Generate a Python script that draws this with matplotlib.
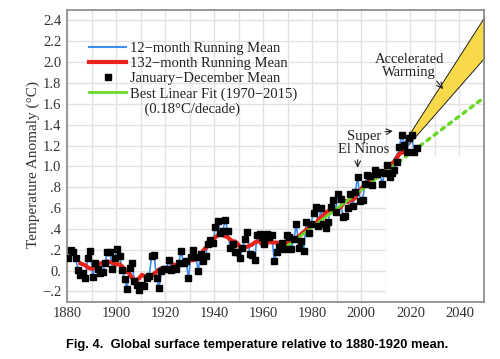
import numpy as np
import matplotlib.pyplot as plt
from matplotlib.lines import Line2D

# 年平均温度距平 (相对 1880-1920), 1880-2022
years = np.arange(1880, 2023)
annual = [0.12, 0.20, 0.18, 0.12, 0.01, -0.04, -0.02, -0.07, 0.12, 0.19,
          -0.06, 0.07, 0.02, -0.02, -0.01, 0.07, 0.18, 0.18, 0.02, 0.12,
          0.21, 0.14, 0.01, -0.08, -0.18, 0.03, 0.07, -0.10, -0.14, -0.19,
          -0.14, -0.15, -0.07, -0.05, 0.14, 0.15, -0.07, -0.17, 0.00, 0.02,
          0.02, 0.10, 0.01, 0.03, 0.02, 0.07, 0.19, 0.07, 0.09, -0.07,
          0.13, 0.20, 0.13, 0.00, 0.16, 0.09, 0.14, 0.26, 0.29, 0.27,
          0.42, 0.48, 0.36, 0.38, 0.49, 0.38, 0.22, 0.26, 0.18, 0.18,
          0.12, 0.22, 0.30, 0.37, 0.16, 0.15, 0.10, 0.34, 0.35, 0.32,
          0.26, 0.35, 0.32, 0.34, 0.09, 0.18, 0.23, 0.27, 0.21, 0.34,
          0.32, 0.21, 0.30, 0.45, 0.22, 0.28, 0.19, 0.47, 0.36, 0.45,
          0.55, 0.61, 0.43, 0.60, 0.45, 0.41, 0.47, 0.61, 0.68, 0.56,
          0.74, 0.69, 0.51, 0.52, 0.60, 0.74, 0.62, 0.75, 0.90, 0.67,
          0.68, 0.83, 0.92, 0.91, 0.82, 0.97, 0.93, 0.95, 0.83, 0.94,
          1.01, 0.90, 0.94, 0.97, 1.04, 1.19, 1.30, 1.21, 1.14, 1.27,
          1.30, 1.14, 1.18]

# 132 个月滑动平均, 1885-2017
smooth_years = np.arange(1885, 2018)
smooth = [0.07, 0.06, 0.05, 0.03, 0.02, 0.02, 0.04, 0.06, 0.07, 0.07,
          0.07, 0.09, 0.08, 0.08, 0.06, 0.06, 0.06, 0.04, 0.01, -0.01,
          -0.03, -0.07, -0.09, -0.09, -0.07, -0.04, -0.05, -0.07, -0.06, -0.05,
          -0.03, -0.01, 0.01, 0.02, 0.02, 0.02, 0.02, 0.03, 0.06, 0.05,
          0.06, 0.08, 0.08, 0.08, 0.09, 0.10, 0.10, 0.11, 0.13, 0.15,
          0.19, 0.22, 0.24, 0.26, 0.30, 0.32, 0.34, 0.35, 0.34, 0.33,
          0.32, 0.30, 0.28, 0.28, 0.26, 0.23, 0.21, 0.22, 0.23, 0.24,
          0.25, 0.27, 0.28, 0.28, 0.25, 0.26, 0.26, 0.28, 0.27, 0.27,
          0.27, 0.26, 0.26, 0.27, 0.26, 0.27, 0.28, 0.30, 0.31, 0.33,
          0.35, 0.37, 0.39, 0.42, 0.42, 0.44, 0.45, 0.49, 0.51, 0.53,
          0.56, 0.57, 0.56, 0.57, 0.57, 0.59, 0.61, 0.64, 0.67, 0.66,
          0.68, 0.68, 0.70, 0.74, 0.77, 0.80, 0.82, 0.85, 0.86, 0.86,
          0.89, 0.91, 0.92, 0.93, 0.94, 0.97, 1.00, 1.03, 1.04, 1.08,
          1.12, 1.13, 1.15]

# 线性拟合 (1970-2015) 及外推
fit_years = [1970, 2015]
fit_vals = [0.24, 1.04]
proj_years = [2015, 2050]
proj_vals = [1.04, 1.66]

# 加速变暖区间
wedge_years = [2010.5, 2050]
wedge_low = [0.98, 2.04]
wedge_high = [0.98, 2.43]

serif = 'Liberation Serif'

fig = plt.figure(figsize=(5, 3.59), dpi=100)
ax = fig.add_axes([0.134, 0.159, 0.834, 0.813])

ax.set_xlim(1880, 2050)
ax.set_ylim(-0.3, 2.5)
ax.set_xticks(np.arange(1880, 2041, 20))
ax.set_xticks(np.arange(1890, 2051, 20), minor=True)
yt = np.arange(-0.2, 2.41, 0.2)
ax.set_yticks(yt)
ylabels = ['\u2212.2', '0.', '.2', '.4', '.6', '.8', '1.0', '1.2', '1.4',
           '1.6', '1.8', '2.0', '2.2', '2.4']
ax.set_yticklabels(ylabels)
ax.grid(True, which='both', color='#e2e2e2', lw=1.0)
ax.set_axisbelow(True)
ax.tick_params(which='both', length=0, labelsize=10.5, colors='#333333', pad=4)
for lab in ax.get_xticklabels() + ax.get_yticklabels():
    lab.set_family(serif)
for s in ax.spines.values():
    s.set_color('#888888')
    s.set_linewidth(1.2)

# 右下角无网格
ax.fill_between([2010, 2050], -0.3, 1.1, color='white', zorder=0.6, lw=0)

ax.fill_between(wedge_years, wedge_low, wedge_high, facecolor='#f8d94a',
                edgecolor='#222222', lw=0.7, zorder=2)

x = years + 0.5
ax.plot(x, annual, color='#3d8ef0', lw=1.2, zorder=3)
ax.plot(smooth_years + 0.5, smooth, color='#e8231b', lw=3, zorder=4)
ax.plot(fit_years, fit_vals, color='#6ad82a', lw=2, zorder=5)
ax.plot(proj_years, proj_vals, color='#6ad82a', lw=2.5, ls=(0, (1, 1.6)),
        dash_capstyle='round', zorder=5)
ax.plot(x, annual, 's', color='black', ms=3.7, zorder=6)

ax.set_ylabel('Temperature Anomaly (\u00b0C)', family=serif, fontsize=11,
              color='#333333')
ax.yaxis.set_label_coords(-0.064, 0.47)

handles = [Line2D([], [], color='#3d8ef0', lw=1.5),
           Line2D([], [], color='#e8231b', lw=3),
           Line2D([], [], ls='none', marker='s', color='black', ms=4),
           Line2D([], [], color='#6ad82a', lw=2),
           Line2D([], [], color='none')]
labels = ['12\u2212month Running Mean', '132\u2212month Running Mean',
          'January\u2212December Mean', 'Best Linear Fit (1970\u22122015)',
          '    (0.18\u00b0C/decade)']
ax.legend(handles, labels, loc='upper left', bbox_to_anchor=(0.036, 0.915),
          frameon=False, prop={'family': serif, 'size': 10.5},
          handlelength=2.5, handletextpad=0.3, labelspacing=0.12,
          borderpad=0, labelcolor='#222222')

ax.text(2019.5, 1.96, 'Accelerated\nWarming', family=serif, fontsize=10.5,
        ha='center', va='center', linespacing=1.0, color='#222222')
ax.annotate('', xy=(2034, 1.72), xytext=(2030, 1.84),
            arrowprops=dict(arrowstyle='->', color='#222222', lw=0.8))
ax.text(2001, 1.22, 'Super\nEl Ninos', family=serif, fontsize=10.5,
        ha='center', va='center', linespacing=1.0, color='#222222')
ax.annotate('', xy=(2014, 1.34), xytext=(2008.5, 1.33),
            arrowprops=dict(arrowstyle='->', color='#222222', lw=0.8))
ax.annotate('', xy=(1998.5, 0.96), xytext=(1998.5, 1.09),
            arrowprops=dict(arrowstyle='->', color='#222222', lw=0.8))

fig.text(0.514, 0.04, 'Fig. 4.  Global surface temperature relative to 1880-1920 mean.',
         family='Liberation Sans', weight='bold', fontsize=9.3,
         ha='center', va='center')

fig.savefig('out.png', dpi=100)
